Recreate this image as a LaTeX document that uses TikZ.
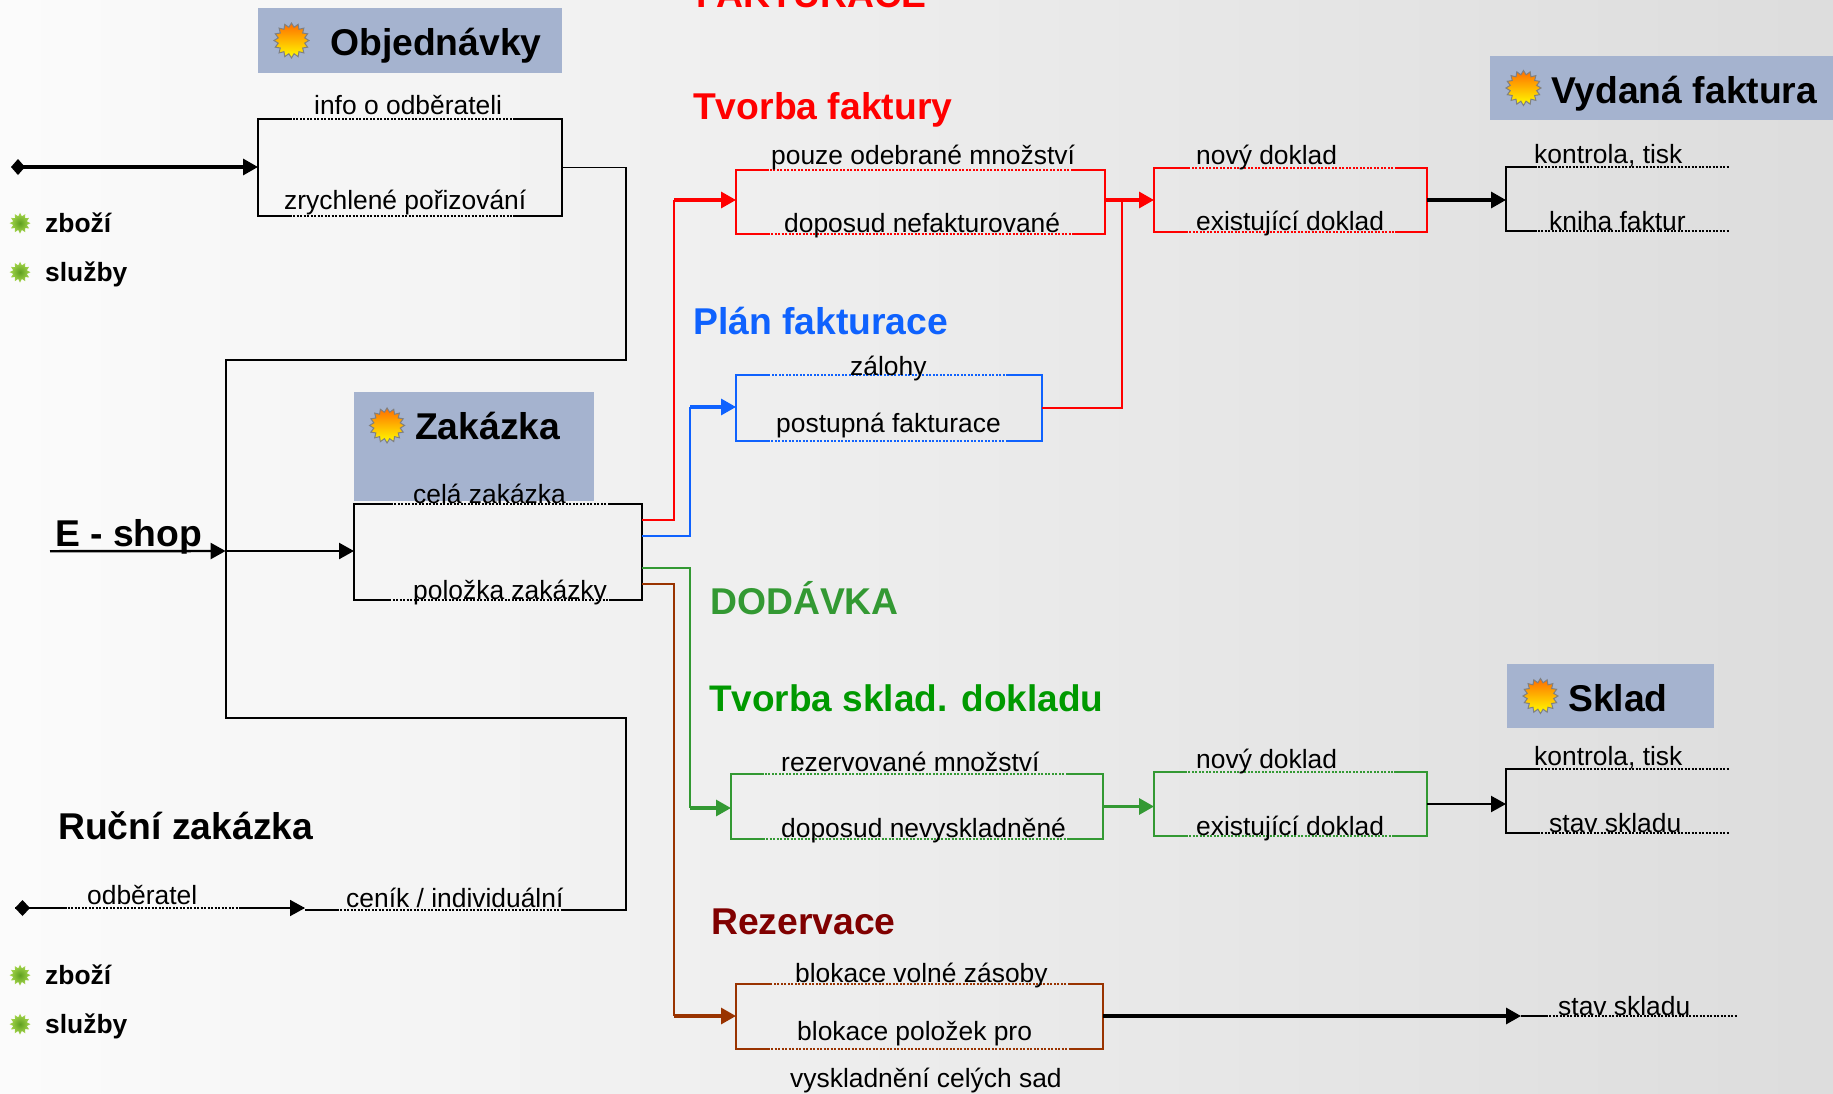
\documentclass[tikz,border=0pt]{standalone}
\usepackage{fontspec}
\setmainfont{Liberation Sans}
\usetikzlibrary{calc}
\usetikzlibrary{arrows.meta}
\usetikzlibrary{positioning}
\usetikzlibrary{shapes.geometric}

\definecolor{pruh}{HTML}{A5B3CF}
\definecolor{modra}{HTML}{0F62FE}
\definecolor{zelena}{HTML}{339933}
\definecolor{hneda}{HTML}{993300}
\definecolor{kvetA}{HTML}{5FA020}
\definecolor{kvetB}{HTML}{A8D84E}

\tikzstyle{popis} = [inner sep=0pt, text depth=0pt, yshift=-1pt, font=\fontsize{26.4}{30}\selectfont]
\tikzstyle{titul} = [inner sep=0pt, text depth=0pt, yshift=-1pt, font=\bfseries\fontsize{37.3}{40}\selectfont]
\tikzstyle{polozka} = [inner sep=0pt, text depth=0pt, font=\bfseries\fontsize{26.4}{30}\selectfont]
\tikzstyle{pruhbox} = [rectangle, fill=pruh, inner sep=0pt, outer sep=0pt]
\tikzstyle{blok} = [rectangle, draw, line width=1.6pt, dash pattern=on 2pt off 1.5pt, inner sep=0pt, outer sep=0pt, minimum height=64pt]
\tikzstyle{otevreny} = [rectangle, inner sep=0pt, outer sep=0pt, minimum width=224pt, minimum height=64pt]
\tikzstyle{slunce} = [star, star points=16, star point ratio=1.3, minimum size=35pt, inner sep=0pt, draw=gray, line width=1pt, top color=orange!85!red, bottom color=yellow]
\tikzstyle{kvet} = [star, star points=12, star point ratio=1.5, minimum size=21pt, inner sep=0pt, inner color=kvetA, outer color=kvetB]
\tikzstyle{cara} = [line width=1.8pt]
\tikzstyle{tecky} = [line width=1.8pt, dash pattern=on 2pt off 1.5pt]
\tikzstyle{sipka} = [line width=3.2pt, -{Triangle[length=15pt,width=16pt]}]

% rohy bloku: plna cara na koncich hran
\newcommand{\rohyL}[3]{\draw[cara,#1] ($(#2.north west)+(#3,0)$) -- (#2.north west) -- (#2.south west) -- ($(#2.south west)+(#3,0)$);}
\newcommand{\rohyP}[3]{\draw[cara,#1] ($(#2.north east)+(-#3,0)$) -- (#2.north east) -- (#2.south east) -- ($(#2.south east)+(-#3,0)$);}

\begin{document}
\begin{tikzpicture}[x=1pt,y=-1pt]
    \useasboundingbox (0,0) rectangle (1833,1093);
    \clip (0,0) rectangle (1833,1093);
    \shade[left color=black!1.5, right color=black!13.5] (0,0) rectangle (1833,1093);

    % objednavky
    \node[pruhbox, minimum width=304pt, minimum height=65pt] (objpruh) at (410,40.5) {};
    \node[slunce, right=15pt of objpruh.west] (objslunce) {};
    \node[titul, above right=18pt and 72pt of objpruh.south west] (objtitul) {Objednávky};
    \node[blok, minimum width=304pt, minimum height=97pt] (obj) at (410,167.5) {};
    \rohyL{}{obj}{34} \rohyP{}{obj}{49}
    \node[popis, above right=5pt and 56pt of obj.north west] (objinfo) {info o odběrateli};
    \node[popis, above right=7pt and 26pt of obj.south west] (objrychle) {zrychlené pořizování};
    \coordinate (objstart) at (11,167);
    \draw[sipka, {Diamond[length=14pt,width=16pt]}-{Triangle[length=15pt,width=16pt]}] (objstart) -- (obj.west |- objstart);

    \foreach \y/\co in {232/zboží, 281/služby, 984/zboží, 1033/služby} {
      \node[polozka, anchor=base west] (txt\y) at (45,\y) {\co};
      \node[kvet, left=14pt of txt\y.west, yshift=-1pt] (kvet\y) {};
    }

    % e-shop a rucni zakazka
    \node[titul, anchor=base west] (eshop) at (55,545) {E - shop};
    \coordinate (spoj) at (225.6,551);
    \draw[sipka, line width=2.4pt] ($(eshop.south west)+(-5,5)$) -- (spoj);
    \node[titul, anchor=base west] (rucni) at (58,838) {Ruční zakázka};

    \coordinate (odbL) at (15,908);
    \coordinate (odbR) at (305,908);
    \draw[tecky] (odbL) -- (odbR);
    \draw[cara, {Diamond[length=15pt,width=16pt]}-] (odbL) -- +(52,0);
    \draw[cara, -{Triangle[length=15pt,width=16pt]}] ($(odbR)+(-64,0)$) -- (odbR);
    \node[popis, above right=4pt and 72pt of odbL] (odb) {odběratel};

    \coordinate (cenL) at (305,910);
    \coordinate (cenR) at (626,910);
    \draw[tecky] (cenL) -- (cenR);
    \draw[cara] (cenL) -- +(34,0);
    \node[popis, above right=3pt and 41pt of cenL] (cenik) {ceník / individuální};

    \coordinate (hornirh) at (626,360);
    \coordinate (dolni) at (225.6,718);
    \draw[cara] (obj.east) -| (hornirh) -| (dolni) -| (cenR) -- +(-63,0);

    % zakazka
    \node[pruhbox, minimum width=240pt, minimum height=109pt] (zakpruh) at (474,446.5) {};
    \node[slunce, above right=62.5pt and 20pt of zakpruh.south west] (zakslunce) {};
    \node[titul, above right=62pt and 61pt of zakpruh.south west] (zaktitul) {Zakázka};
    \node[blok, minimum width=288pt, minimum height=96pt] (zak) at (498,552) {};
    \rohyL{}{zak}{37} \rohyP{}{zak}{33}
    \node[popis, above right=1pt and 59pt of zak.north west] (zakcela) {celá zakázka};
    \node[popis, above right=1.5pt and 59pt of zak.south west] (zakpol) {položka zakázky};
    \draw[sipka, line width=2.4pt] (spoj) -- (zak.west |- spoj);

    % fakturace
    \node[titul, red, anchor=base west] (faktitul) at (696,6) {FAKTURACE};
    \node[blok, red, minimum width=369pt] (tvorba) at (920.5,202) {};
    \rohyL{red}{tvorba}{33} \rohyP{red}{tvorba}{33}
    \node[titul, red, above right=51pt and -43pt of tvorba.north west] (tvorbatitul) {Tvorba faktury};
    \node[popis, above right=6pt and 35pt of tvorba.north west] (tvorbahore) {pouze odebrané množství};
    \node[popis, above right=2pt and 48pt of tvorba.south west] (tvorbadole) {doposud nefakturované};

    \node[blok, red, minimum width=273pt] (fakdok) at (1290.5,200) {};
    \rohyL{red}{fakdok}{34} \rohyP{red}{fakdok}{32}
    \node[popis, above right=4pt and 42pt of fakdok.north west] (fakdokhore) {nový doklad};
    \node[popis, above right=2pt and 42pt of fakdok.south west] (fakdokdole) {existující doklad};

    \node[blok, modra, minimum width=306pt, minimum height=66pt] (plan) at (889,408) {};
    \rohyL{modra}{plan}{33} \rohyP{modra}{plan}{34}
    \node[titul, modra, above right=41pt and -43pt of plan.north west] (plantitul) {Plán fakturace};
    \node[popis, above right=0pt and 114pt of plan.north west] (planhore) {zálohy};
    \node[popis, above right=9pt and 40pt of plan.south west] (plandole) {postupná fakturace};

    \coordinate (cervena) at (674,200);
    \coordinate (modrabod) at (690,407);
    \draw[cara, red] ($(zak.north east)+(0,16)$) -| (cervena);
    \draw[sipka, red] (cervena) -- (tvorba.west |- cervena);
    \draw[cara, modra] ($(zak.north east)+(0,32)$) -| (modrabod);
    \draw[sipka, modra] (modrabod) -- (plan.west |- modrabod);
    \draw[sipka, red] (tvorba.east |- cervena) -- (fakdok.west |- cervena);
    \coordinate (plansoutok) at (1122,200);
    \draw[cara, red] (plan.east) -| (plansoutok);

    \node[pruhbox, minimum width=343pt, minimum height=64pt] (vydpruh) at (1661.5,88) {};
    \node[slunce, right=15pt of vydpruh.west] (vydslunce) {};
    \node[titul, above right=17pt and 61pt of vydpruh.south west] (vydtitul) {Vydaná faktura};
    \node[otevreny] (vyd) at (1618,199) {};
    \draw[tecky] (vyd.north west) -- (vyd.north east);
    \draw[tecky] (vyd.south west) -- (vyd.south east);
    \rohyL{}{vyd}{31}
    \node[popis, above right=4pt and 28pt of vyd.north west] (vydhore) {kontrola, tisk};
    \node[popis, above right=1pt and 43pt of vyd.south west] (vyddole) {kniha faktur};
    \draw[sipka] (fakdok.east) -- (vyd.west |- fakdok.east);

    % dodavka
    \node[titul, zelena, anchor=base west] (dodtitul) at (710,613) {DODÁVKA};
    \node[titul, green!60!black, anchor=base west, font=\bfseries\fontsize{37}{40}\selectfont] (skltitul) at (709,710) {Tvorba sklad. dokladu};
    \node[blok, zelena, minimum width=372pt, minimum height=65pt] (rez) at (917,806.5) {};
    \rohyL{zelena}{rez}{33} \rohyP{zelena}{rez}{36}
    \node[popis, above right=3pt and 50pt of rez.north west] (rezhore) {rezervované množství};
    \node[popis, above right=2pt and 50pt of rez.south west] (rezdole) {doposud nevyskladněné};

    \node[blok, zelena, minimum width=273pt] (skldok) at (1290.5,804) {};
    \rohyL{zelena}{skldok}{32} \rohyP{zelena}{skldok}{33}
    \node[popis, above right=4pt and 42pt of skldok.north west] (skldokhore) {nový doklad};
    \node[popis, above right=1pt and 42pt of skldok.south west] (skldokdole) {existující doklad};

    \coordinate (zelenabod) at (690,808);
    \draw[cara, zelena] ($(zak.north east)+(0,64)$) -| (zelenabod);
    \draw[sipka, zelena] (zelenabod) -- (rez.west |- zelenabod);
    \draw[sipka, zelena] (rez.east) -- (skldok.west |- rez.east);

    \node[pruhbox, minimum width=207pt, minimum height=64pt] (sklpruh) at (1610.5,696) {};
    \node[slunce, right=15pt of sklpruh.west] (sklslunce) {};
    \node[titul, above right=17pt and 61pt of sklpruh.south west] (skltxt) {Sklad};
    \node[otevreny] (skl) at (1618,801) {};
    \draw[tecky] (skl.north west) -- (skl.north east);
    \draw[tecky] (skl.south west) -- (skl.south east);
    \rohyL{}{skl}{34}
    \node[popis, above right=4pt and 28pt of skl.north west] (sklhore) {kontrola, tisk};
    \node[popis, above right=1pt and 43pt of skl.south west] (skldole) {stav skladu};
    \draw[sipka, line width=2.2pt] (skldok.east) -- (skl.west |- skldok.east);

    % rezervace
    \node[titul, red!50!black, anchor=base west] (rezertitul) at (711,933) {Rezervace};
    \node[blok, hneda, minimum width=367pt, minimum height=65pt] (blokace) at (919.5,1016.5) {};
    \rohyL{hneda}{blokace}{34} \rohyP{hneda}{blokace}{33}
    \node[popis, above right=2pt and 59pt of blokace.north west] (blokhore) {blokace volné zásoby};
    \node[popis, above right=9pt and 61pt of blokace.south west] (blokdole) {blokace položek pro};
    \node[popis, above right=-38pt and 54pt of blokace.south west] (blokpod) {vyskladnění celých sad};

    \coordinate (hnedabod) at (674,1016);
    \draw[cara, hneda] ($(zak.north east)+(0,80)$) -| (hnedabod);
    \draw[sipka, hneda] (hnedabod) -- (blokace.west |- hnedabod);

    \coordinate (stavL) at (1521,1016);
    \coordinate (stavR) at (1738,1016);
    \draw[sipka] (blokace.east |- stavL) -- (stavL);
    \draw[tecky] (stavL) -- (stavR);
    \draw[cara] (stavL) -- +(26,0);
    \node[popis, above right=1pt and 37pt of stavL] (stav) {stav skladu};
\end{tikzpicture}
\end{document}
